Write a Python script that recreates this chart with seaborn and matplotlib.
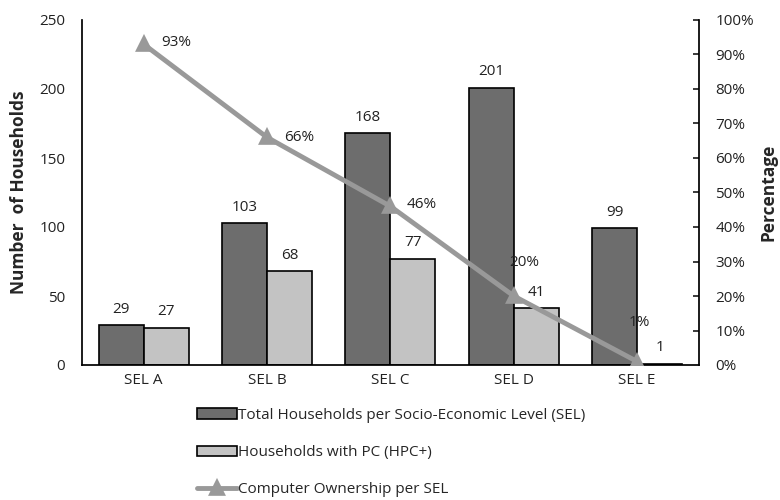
import matplotlib
matplotlib.use("Agg")
import matplotlib.pyplot as plt
import matplotlib.ticker as mtick
import seaborn as sns
import pandas as pd

# data
l_sel_levels = ["SEL A", "SEL B", "SEL C", "SEL D", "SEL E"]
l_total_households = [29, 103, 168, 201, 99]
l_households_pc = [27, 68, 77, 41, 1]
l_ownership_pct = [93, 66, 46, 20, 1]

lbl_total = "Total Households per Socio-Economic Level (SEL)"
lbl_pc = "Households with PC (HPC+)"
lbl_own = "Computer Ownership per SEL"

sns.set_theme(style="white")
plt.rcParams["font.family"] = ["Open Sans", "DejaVu Sans"]
fs = 11

df_bars = pd.DataFrame({
    "SEL": l_sel_levels * 2,
    "Households": l_total_households + l_households_pc,
    "Series": [lbl_total] * 5 + [lbl_pc] * 5,
})
df_line = pd.DataFrame({"SEL": l_sel_levels, "Pct": l_ownership_pct})

fig = plt.figure(figsize=(7.8, 5), dpi=100)
ax = fig.add_axes([0.105, 0.27, 0.791, 0.69])

sns.barplot(data=df_bars, x="SEL", y="Households", hue="Series",
            palette=["#6d6d6d", "#c3c3c3"], edgecolor="black", linewidth=1.2,
            width=0.73, ax=ax, legend=True)
for cont in ax.containers:
    ax.bar_label(cont, padding=6, fontsize=fs, color="#222222")

ax.set_ylim(0, 250)
ax.set_yticks(range(0, 251, 50))
ax.set_xlim(-0.5, 4.5)
ax.set_xlabel("")
ax.set_ylabel("Number  of Households", fontsize=12.5, fontweight="bold", labelpad=8)
ax.tick_params(axis="both", labelsize=fs, length=0, colors="#222222")
ax.tick_params(axis="y", pad=12)
ax.tick_params(axis="x", pad=6)
for side in ["top", "right"]:
    ax.spines[side].set_visible(False)
for side in ["left", "bottom"]:
    ax.spines[side].set_color("black")
ax.legend().remove()

ax2 = ax.twinx()
sns.pointplot(data=df_line, x="SEL", y="Pct", color="#999999", markers="^",
              linestyles="-", linewidth=3.5, markersize=9, ax=ax2)
ax2.set_xlim(-0.5, 4.5)
ax2.set_ylim(0, 100)
ax2.set_yticks(range(0, 101, 10))
ax2.yaxis.set_major_formatter(mtick.PercentFormatter(decimals=0))
ax2.set_ylabel("Percentage", fontsize=12.5, fontweight="bold", labelpad=4)
ax2.tick_params(axis="y", labelsize=fs, direction="in", length=4, pad=12,
                colors="#222222")
for side in ["top", "left", "bottom"]:
    ax2.spines[side].set_visible(False)
ax2.spines["right"].set_color("black")

# percentage labels, placed like the original
l_offsets = [(13, 1), (12, 0), (12, 1), (-3, 24), (-6, 28)]
for i, (val, off) in enumerate(zip(l_ownership_pct, l_offsets)):
    ax2.annotate(f"{val}%", (i, val), xytext=off, textcoords="offset points",
                 fontsize=fs, color="#222222", va="center", ha="left")

h_bars, _ = ax.get_legend_handles_labels()
h_line = ax2.lines[0]
fig.legend([h_bars[0], h_bars[1], h_line], [lbl_total, lbl_pc, lbl_own],
           loc="upper left", bbox_to_anchor=(0.245, 0.196), frameon=False,
           fontsize=fs, labelspacing=1.45, handlelength=2.6, handletextpad=0.1,
           borderaxespad=0)

fig.savefig("out.png", dpi=100)
